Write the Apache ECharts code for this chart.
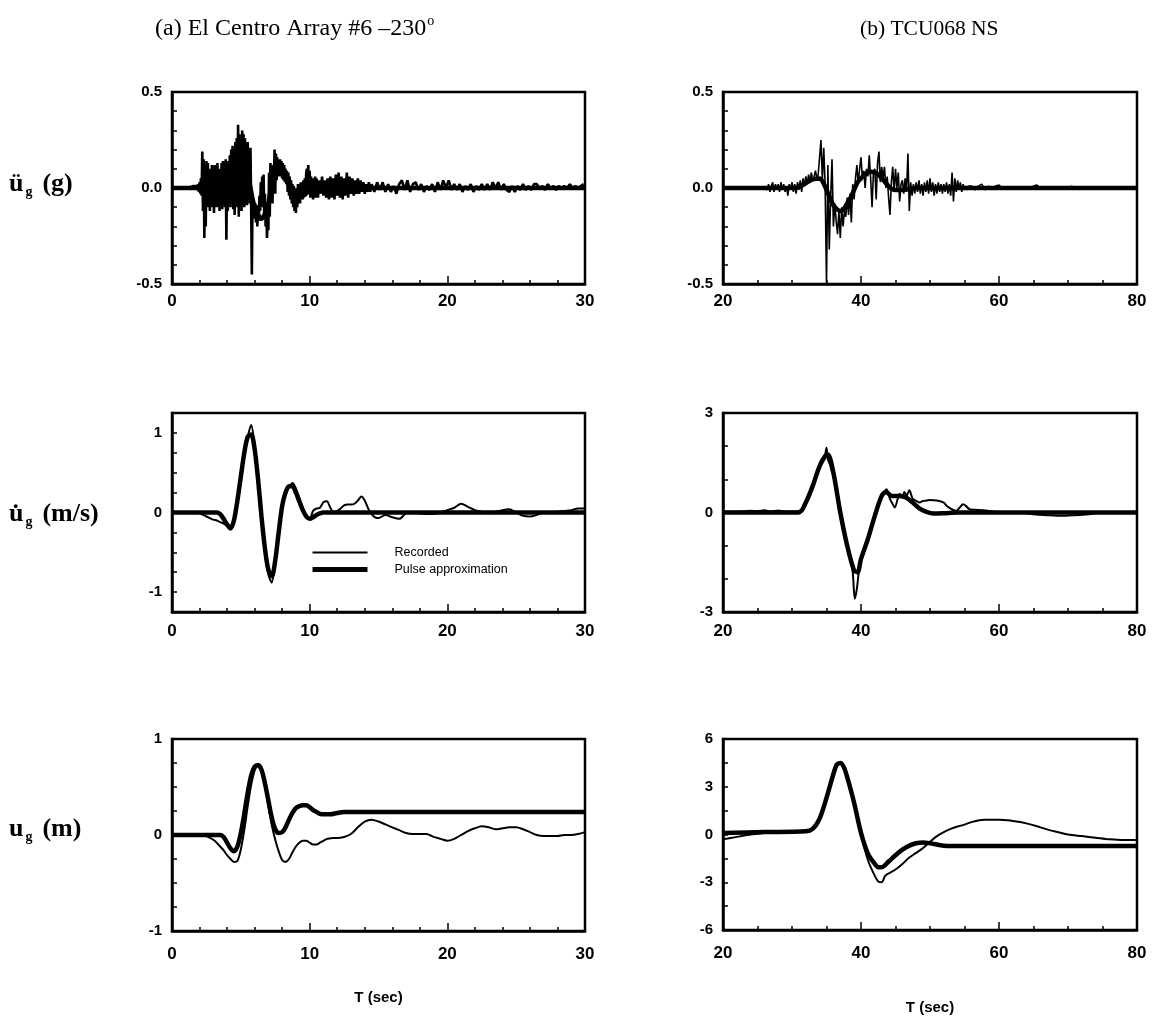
<!DOCTYPE html>
<html>
<head>
<meta charset="utf-8">
<script src="https://cdn.jsdelivr.net/npm/echarts@6/dist/echarts.min.js"></script>
<style>
  html, body { margin: 0; padding: 0; background: #fff; }
  #chart { width: 1155px; height: 1016px; }
</style>
</head>
<body>
<div id="chart"></div>
<script>
// ---------------- El Centro Array #6 (230) ----------------
// Recorded ground acceleration (g), stored as uniformly sampled pieces.
const elcAccPre = [0, 0, 0, 0, 0, 0.01];                 // t = 0 .. 1.5, dt 0.3
const elcAccStrong = [                                   // t = 1.8 .. 10.45, dt 0.05
  0.01, -0.01, 0.02, -0.02, 0.03, -0.03, 0.05, -0.04,
  0.19, -0.12, 0.15, -0.26, 0.12, -0.2, 0.14, -0.08, 0.13, -0.1, 0.08, -0.12,
  0.1, -0.05, 0.12, -0.1, 0.06, -0.13, 0.12, -0.08, 0.11, -0.1, 0.13, -0.06, 0.1, -0.12, 0.07, -0.09, 0.13, -0.11, 0.14, -0.08,
  0.12, -0.1, 0.15, -0.27, 0.09, -0.12, 0.14, -0.08, 0.17, -0.1, 0.2, -0.05, 0.22, -0.11, 0.18, -0.14, 0.24, -0.07, 0.26, -0.1,
  0.33, -0.15, 0.28, -0.08, 0.25, -0.12, 0.3, -0.05, 0.28, -0.1, 0.26, -0.06, 0.22, -0.09, 0.24, -0.04, 0.2, -0.08, 0.21, -0.1,
  -0.45, -0.06, -0.14, -0.07, -0.16, -0.08, -0.18, -0.09, -0.2, -0.1, -0.17, -0.04, -0.12, 0.03, -0.08, 0.06, -0.1, 0.07, -0.14, -0.03,
  -0.2, -0.08, -0.26, -0.12, -0.22, 0.08, -0.15, 0.13, -0.05, 0.11, -0.08, 0.12, 0.02, 0.2, -0.03, 0.18, 0.04, 0.16, 0.06, 0.13,
  0.07, 0.15, 0.06, 0.14, 0.05, 0.13, 0.04, 0.12, 0.03, 0.1, 0.02, 0.09, -0.02, 0.08, -0.04, 0.06, -0.06, 0.04, -0.08, 0.02,
  -0.1, 0.01, -0.12, -0.02, -0.13, 0.0, -0.1, 0.02, -0.07, 0.01, -0.08, 0.03, -0.05, 0.02, -0.06, 0.04, -0.03, 0.05, -0.04, 0.08,
  0.1, -0.02, 0.12, -0.03, 0.09, -0.05, 0.06, -0.04, 0.05, -0.06, 0.04, -0.03, 0.06, -0.05
];
const elcAccCoda1 = [                                    // t = 10.5 .. 14.4, dt 0.1
  0.05, -0.05, 0.04, -0.03, 0.06, -0.04, 0.04, -0.05, 0.05, -0.06,
  0.06, -0.05, 0.05, -0.06, 0.07, -0.04, 0.08, -0.05, 0.06, -0.06,
  0.05, -0.04, 0.08, -0.05, 0.06, -0.03, 0.05, -0.04, 0.04, -0.03,
  0.05, -0.03, 0.04, -0.02, 0.03, -0.03, 0.02, -0.02, 0.03, -0.02
];
const elcAccCoda2 = [                                    // t = 14.5 .. 29.9, dt 0.2
  0.02, -0.02, 0.03, -0.01, 0.03, -0.02, 0.02, -0.02, 0.01, -0.03,
  0.02, 0.04, -0.01, 0.04, -0.02, 0.02, 0.03, -0.01, 0.02, -0.02,
  0.01, -0.01, 0.02, -0.02, 0.03, -0.01, 0.04, 0.0, 0.04, -0.01,
  0.02, -0.01, 0.02, -0.02, 0.01, -0.01, 0.02, -0.02, 0.01, -0.01,
  0.02, -0.01, 0.02, -0.01, 0.03, 0.0, 0.03, -0.01, 0.02, -0.01,
  -0.02, 0.01, -0.02, 0.01, -0.01, 0.02, -0.01, 0.01, -0.01, 0.02,
  0.02, 0.0, 0.01, -0.01, 0.02, 0.0, 0.01, -0.01, 0.01, 0.0,
  0.01, 0.0, 0.02, 0.0, 0.01, 0.0, 0.01, 0.02
];
// Pulse approximation, acceleration (g): [t, value]
const elcAccPulse = [[0,0],[3,0],[3.5,-0.01],[4,-0.03],[4.5,0.05],[5,0.11],[5.5,0.06],[6,-0.1],[6.5,-0.16],
  [7,-0.08],[7.5,0.1],[8,0.1],[8.5,0.03],[9,-0.03],[9.5,-0.04],[10,-0.01],[10.5,0.01],[11,0],[30,0]];

// Recorded ground velocity (m/s)
const elcVelRec1 = [                                     // t = 0 .. 15, dt 0.25
  0, 0, 0, 0, 0, 0, 0, 0, -0.01, -0.03, -0.05, -0.07,
  -0.09, -0.1, -0.12, -0.14, -0.17, -0.2, -0.08, 0.15, 0.42, 0.72, 0.95, 1.1,
  0.85, 0.45, -0.05, -0.5, -0.78, -0.88, -0.55, -0.22, 0.12, 0.28, 0.33, 0.37,
  0.3, 0.18, 0.05, -0.05, -0.08, 0.02, 0.05, 0.06, 0.13, 0.14, 0.06, 0.0,
  0.02, 0.05, 0.09, 0.1, 0.1, 0.11, 0.15, 0.2, 0.15, 0.05, -0.02, -0.06,
  -0.07
];
const elcVelRec2 = [                                     // t = 15.5 .. 30, dt 0.5
  -0.03, -0.06, -0.08, -0.01, 0.0, -0.01, -0.02, -0.02, 0.0, 0.03,
  0.06, 0.11, 0.07, 0.03, 0.01, -0.01, 0.01, 0.03, 0.04, 0.0,
  -0.04, -0.05, -0.03, 0.0, 0.0, 0.01, 0.02, 0.03, 0.05, 0.05
];
const elcVelPulse = [[0,0],[3,0],[3.25,0],[3.5,-0.02],[3.75,-0.08],[4,-0.15],[4.25,-0.2],[4.5,-0.1],[4.75,0.15],
  [5,0.45],[5.25,0.75],[5.5,0.95],[5.75,0.98],[6,0.8],[6.25,0.42],[6.5,-0.05],[6.75,-0.45],[7,-0.72],[7.25,-0.8],
  [7.5,-0.6],[7.75,-0.25],[8,0.08],[8.25,0.25],[8.5,0.33],[8.75,0.33],[9,0.25],[9.25,0.14],[9.5,0.03],[9.75,-0.05],
  [10,-0.08],[10.25,-0.06],[10.5,-0.03],[10.75,-0.01],[11,0],[30,0]];

// Recorded ground displacement (m)
const elcDispRec1 = [                                    // t = 0 .. 12, dt 0.25
  0, 0, 0, 0, 0, 0, 0, 0, 0, 0, -0.01, -0.03,
  -0.05, -0.08, -0.12, -0.16, -0.21, -0.25, -0.28, -0.27, -0.15, 0.05, 0.3, 0.52,
  0.67, 0.72, 0.68, 0.52, 0.3, 0.1, -0.05, -0.17, -0.26, -0.28, -0.25, -0.18,
  -0.12, -0.08, -0.06, -0.06, -0.08, -0.1, -0.1, -0.08, -0.06, -0.04, -0.035, -0.03,
  -0.03
];
const elcDispRec2 = [                                    // t = 12.5 .. 30, dt 0.5
  -0.02, 0.01, 0.08, 0.14, 0.16, 0.14, 0.11, 0.08, 0.05, 0.02,
  0.01, 0.01, 0.01, -0.02, -0.04, -0.06, -0.04, 0.0, 0.04, 0.07,
  0.09, 0.08, 0.06, 0.07, 0.08, 0.08, 0.06, 0.03, 0.0, -0.01,
  -0.01, -0.01, 0.0, 0.0, 0.01, 0.03
];
const elcDispPulse = [[0,0],[3.5,0],[3.75,-0.02],[4,-0.08],[4.25,-0.14],[4.5,-0.17],[4.75,-0.12],[5,0.02],
  [5.25,0.22],[5.5,0.44],[5.75,0.62],[6,0.71],[6.25,0.73],[6.5,0.68],[6.75,0.54],[7,0.36],[7.25,0.18],[7.5,0.06],
  [7.75,0.02],[8,0.03],[8.25,0.08],[8.5,0.16],[8.75,0.23],[9,0.28],[9.25,0.3],[9.5,0.31],[9.75,0.31],[10,0.29],
  [10.25,0.26],[10.5,0.24],[10.75,0.22],[11,0.215],[11.5,0.215],[12,0.23],[12.5,0.24],[30,0.24]];

// ---------------- TCU068 NS ----------------
const tcuAccPre = [0, 0, 0, 0, 0, 0, 0, 0, 0, 0, 0, 0.005];   // t = 20 .. 25.5, dt 0.5
const tcuAccStrong = [                                   // t = 26 .. 55.8, dt 0.2
  0.0, 0.01, -0.01, 0.02, -0.02, 0.01, 0.03, -0.02, 0.02, -0.01,
  0.02, -0.02, 0.03, -0.01, 0.02, -0.02, 0.01, -0.04, 0.02, -0.01,
  0.03, -0.02, 0.02, -0.03, 0.03, -0.01, 0.04, -0.02, 0.05, 0.01,
  0.06, 0.02, 0.07, 0.03, 0.08, 0.04, 0.06, 0.09, 0.05, 0.07,
  0.06, 0.25, 0.04, 0.21, 0.02, -0.5, 0.12, -0.32, -0.05, 0.15,
  -0.2, -0.08, -0.17, -0.24, -0.12, -0.26, -0.1, -0.2, -0.12, -0.15,
  -0.05, -0.14, -0.03, -0.18, 0.02, -0.06, 0.05, 0.12, 0.02, 0.1,
  0.16, 0.05, 0.09, 0.0, 0.1, 0.06, 0.17, 0.05, -0.1, 0.08,
  0.1, -0.06, 0.13, 0.19, 0.03, 0.11, 0.05, 0.11, 0.0, 0.06,
  -0.05, -0.14, 0.03, 0.11, -0.02, 0.1, 0.0, 0.08, -0.07, 0.02,
  0.04, -0.03, 0.05, -0.02, 0.18, -0.12, 0.03, -0.04, 0.02, -0.03,
  0.03, -0.02, 0.04, -0.03, 0.02, -0.04, 0.03, -0.02, 0.04, -0.03,
  0.05, -0.02, 0.03, -0.04, 0.02, -0.03, 0.03, -0.02, 0.02, -0.03,
  0.02, -0.02, 0.03, -0.03, 0.02, -0.04, 0.08, -0.07, 0.05, -0.02,
  0.04, -0.01, 0.03, -0.02, 0.02, -0.01, 0.01, -0.01, 0.01, 0.0
];
const tcuAccPost = [                                     // t = 56 .. 80, dt 0.5
  0.01, -0.01, 0.01, 0.02, -0.01, 0.01, 0.0, 0.01, 0.015, 0.0,
  0.005, 0.0, 0.005, -0.005, 0.005, 0.0, 0.005, 0.0, 0.01, 0.015,
  0.0, 0.005, 0.0, 0.005, 0.0, 0.005, 0.0, 0.005, 0.0, 0.01,
  0.0, 0.005, 0.0, 0.005, 0.0, 0.005, 0.0, 0.005, 0.0, 0.005,
  0.0, 0.005, 0.0, 0.005, 0.0, 0.005, 0.0, 0.005, 0.0
];
const tcuAccPulse = [[20,0],[30,0],[31,0.005],[32,0.025],[33,0.045],[34,0.05],[34.5,0.03],[35,-0.01],[35.5,-0.05],
  [36,-0.09],[36.5,-0.11],[37,-0.12],[37.5,-0.11],[38,-0.08],[38.5,-0.05],[39,-0.01],[39.5,0.03],[40,0.05],
  [40.5,0.07],[41,0.08],[41.5,0.085],[42,0.08],[42.5,0.07],[43,0.05],[43.5,0.03],[44,0.01],[44.5,-0.005],
  [45,-0.01],[46,-0.01],[47,-0.005],[48,0],[80,0]];

const tcuVelRec = [[20,0.03],[22,0.02],[24,0.05],[25,0.04],[26,0.07],[27,0.03],[28,0.06],[29,0.03],[30,0.03],
  [31,0.05],[31.5,0.12],[32,0.25],[32.5,0.55],[33,0.87],[33.5,1.15],[34,1.38],[34.5,1.6],[34.8,1.75],[35,1.95],
  [35.2,1.6],[35.5,1.45],[35.7,1.28],[36,1.15],[36.2,1.08],[36.4,0.77],[36.9,0.0],[37.4,-0.45],[37.9,-0.87],
  [38.4,-1.35],[38.8,-1.8],[39.1,-2.6],[39.4,-2.3],[39.8,-1.6],[40.3,-1.2],[40.8,-0.97],[41.2,-0.6],[41.7,-0.25],
  [42.2,0.05],[42.7,0.36],[43.2,0.55],[43.7,0.7],[44.2,0.41],[44.6,0.25],[44.9,0.15],[45.3,0.4],[45.6,0.56],
  [46,0.5],[46.3,0.62],[46.6,0.5],[47,0.67],[47.5,0.41],[48,0.35],[48.5,0.3],[49,0.35],[49.5,0.36],[50,0.38],
  [51,0.36],[52,0.3],[52.4,0.2],[53,0.12],[53.8,0.05],[54.3,0.15],[54.8,0.25],[55.2,0.2],[55.7,0.1],[56.5,0.08],
  [57.7,0.07],[59,0.03],[61,0.0],[63,0.0],[65,-0.05],[67,-0.08],[69,-0.1],[71,-0.08],[73,-0.05],[75,0.0],
  [77,0.0],[80,0.02]];
const tcuVelPulse = [[20,0],[31,0],[32,0.3],[33,0.8],[34,1.4],[34.8,1.7],[35.2,1.75],[36,1.2],[37,0.0],[38,-1.0],
  [39,-1.75],[39.5,-1.8],[40,-1.4],[41,-0.8],[42,-0.1],[43,0.5],[43.6,0.62],[44.5,0.5],[45.5,0.5],[46.5,0.45],
  [47.5,0.3],[48.5,0.12],[49.5,0.02],[50.5,-0.03],[52,-0.02],[54,0],[80,0]];

const tcuDispRec = [[20,-0.3],[22,-0.15],[24,0.0],[26,0.1],[28,0.15],[30,0.18],[32,0.2],[33,0.4],[34,1.0],
  [35,2.2],[36,3.7],[36.5,4.3],[37,4.45],[37.5,4.2],[38,3.6],[39,2.0],[40,0.0],[41,-1.6],[42,-2.6],[42.5,-2.95],
  [43,-3.0],[43.5,-2.6],[44,-2.45],[45,-2.2],[46,-1.85],[47,-1.45],[48,-1.15],[49,-0.85],[50,-0.45],[51,-0.1],
  [52,0.15],[53,0.35],[54,0.5],[55,0.62],[56,0.78],[57,0.88],[58,0.92],[59,0.93],[60,0.92],[62,0.85],[64,0.7],
  [66,0.45],[68,0.2],[70,0.0],[72,-0.1],[74,-0.2],[76,-0.3],[78,-0.35],[80,-0.35]];
const tcuDispPulse = [[20,0.1],[26,0.15],[32,0.2],[33,0.35],[34,1.0],[35,2.3],[36,3.8],[36.5,4.4],[37,4.5],
  [37.5,4.25],[38,3.6],[39,2.0],[40,0.1],[41,-1.2],[42,-1.85],[42.5,-2.05],[43,-2.05],[44,-1.7],[45,-1.3],
  [46,-0.95],[47,-0.7],[48,-0.55],[49,-0.5],[50,-0.55],[52,-0.7],[55,-0.73],[80,-0.73]];

// Axis ranges and tick settings per row / column
const xRanges = [{ min: 0, max: 30, interval: 10, minor: 5 }, { min: 20, max: 80, interval: 20, minor: 4 }];
const yRanges = [
  [{ min: -0.5, max: 0.5, interval: 0.5, minor: 5, fmt: 'dec' }, { min: -0.5, max: 0.5, interval: 0.5, minor: 5, fmt: 'dec' }],
  [{ min: -1.25, max: 1.25, interval: 0.25, minor: 0, fmt: 'int' }, { min: -3, max: 3, interval: 3, minor: 3, fmt: 'int' }],
  [{ min: -1, max: 1, interval: 1, minor: 4, fmt: 'int' }, { min: -6, max: 6, interval: 3, minor: 2, fmt: 'int' }]
];

// Build [t, value] pairs from a uniformly sampled piece
function sampled(t0, dt, vals) {
  return vals.map((v, i) => [Math.round((t0 + i * dt) * 1000) / 1000, v]);
}

const elcAccRec = [].concat(sampled(0, 0.3, elcAccPre), sampled(1.8, 0.05, elcAccStrong),
  sampled(10.5, 0.1, elcAccCoda1), sampled(14.5, 0.2, elcAccCoda2));
const elcVelRec = [].concat(sampled(0, 0.25, elcVelRec1), sampled(15.5, 0.5, elcVelRec2));
const elcDispRec = [].concat(sampled(0, 0.25, elcDispRec1), sampled(12.5, 0.5, elcDispRec2));
const tcuAccRec = [].concat(sampled(20, 0.5, tcuAccPre), sampled(26, 0.2, tcuAccStrong), sampled(56, 0.5, tcuAccPost));

const panels = [
  [[elcAccRec, elcAccPulse], [tcuAccRec, tcuAccPulse]],
  [[elcVelRec, elcVelPulse], [tcuVelRec, tcuVelPulse]],
  [[elcDispRec, elcDispPulse], [tcuDispRec, tcuDispPulse]]
];

// Layout
const colLeft = [172, 723], colWidth = [413, 414];
const rowTop = [92, 413, 739], rowHeight = [192, 199, 192];
const labelMargin = [9, 11, 15];
const recWidth = [[2.6, 1.6], [2, 2], [2, 2]];

const grids = [], xAxes = [], yAxes = [], series = [];
const tickFont = { fontFamily: 'Liberation Sans, Arial, sans-serif', fontWeight: 'bold', color: '#000' };

for (let r = 0; r < 3; r++) {
  for (let c = 0; c < 2; c++) {
    const idx = grids.length;
    grids.push({
      left: colLeft[c], top: rowTop[r], width: colWidth[c], height: rowHeight[r],
      show: true, borderColor: '#000', borderWidth: 2.5, backgroundColor: 'transparent'
    });
    const xr = xRanges[c];
    xAxes.push({
      type: 'value', gridIndex: idx, min: xr.min, max: xr.max, interval: xr.interval,
      axisLine: { show: true, onZero: false, lineStyle: { color: '#000', width: 2.5 } },
      axisTick: { show: true, inside: true, length: 8, lineStyle: { color: '#000', width: 1.5 } },
      minorTick: { show: true, splitNumber: xr.minor, length: 4, lineStyle: { color: '#000', width: 1.5 } },
      splitLine: { show: false }, minorSplitLine: { show: false },
      axisLabel: Object.assign({ fontSize: 17, margin: labelMargin[r], showMinLabel: true, showMaxLabel: true }, tickFont),
      name: r === 2 ? 'T (sec)' : '',
      nameLocation: 'middle', nameGap: c === 0 ? 59 : 70,
      nameTextStyle: { fontFamily: 'Liberation Sans, Arial, sans-serif', fontWeight: 'bold', fontSize: 15, color: '#000' }
    });
    const yr = yRanges[r][c];
    yAxes.push({
      type: 'value', gridIndex: idx, min: yr.min, max: yr.max, interval: yr.interval,
      axisLine: { show: true, onZero: false, lineStyle: { color: '#000', width: 2.5 } },
      axisTick: { show: true, inside: true, length: 5, lineStyle: { color: '#000', width: 1.5 } },
      minorTick: { show: yr.minor > 0, splitNumber: yr.minor || 5, length: 5, lineStyle: { color: '#000', width: 1.5 } },
      splitLine: { show: false }, minorSplitLine: { show: false },
      axisLabel: Object.assign({
        fontSize: 15, margin: 10, showMinLabel: true, showMaxLabel: true,
        formatter: yr.fmt === 'dec'
          ? (v) => v.toFixed(1)
          : (v) => (Math.abs(v - Math.round(v)) < 1e-6 ? String(Math.round(v) + 0) : '')
      }, tickFont)
    });
    const [rec, pulse] = panels[r][c];
    series.push({
      name: 'Recorded', type: 'line', xAxisIndex: idx, yAxisIndex: idx, data: rec,
      showSymbol: false, symbol: 'none', smooth: r === 0 ? false : 0.3, clip: true,
      itemStyle: { color: '#000' },
      lineStyle: { color: '#000', width: recWidth[r][c] }, z: 3
    });
    series.push({
      name: 'Pulse approximation', type: 'line', xAxisIndex: idx, yAxisIndex: idx, data: pulse,
      showSymbol: false, symbol: 'none', smooth: 0.3, clip: true,
      itemStyle: { color: '#000' },
      lineStyle: { color: '#000', width: 4.5 }, z: 2
    });
  }
}

const serif = 'Liberation Serif, "Times New Roman", serif';
const rowLabelStyle = {
  fontFamily: serif, fontSize: 26, fontWeight: 'bold', color: '#000',
  rich: { sub: { fontFamily: serif, fontSize: 14, fontWeight: 'bold', lineHeight: 14, padding: [17, 10, 0, 2] } }
};

const option = {
  animation: false,
  backgroundColor: '#fff',
  title: [
    { text: '(a) El Centro Array #6 \u2013230{sup|o}', left: 150, top: 12,
      textStyle: { fontFamily: serif, fontSize: 24, fontWeight: 'normal', color: '#000',
        rich: { sup: { fontFamily: serif, fontSize: 14, lineHeight: 14, padding: [0, 0, 15, 1] } } } },
    { text: '(b) TCU068 NS', left: 855, top: 13,
      textStyle: { fontFamily: serif, fontSize: 21.5, fontWeight: 'normal', color: '#000' } },
    { text: '\u00fc{sub|g}(g)', left: 4, top: 166, textStyle: rowLabelStyle },
    { text: 'u\u0307{sub|g}(m/s)', left: 4, top: 496, textStyle: rowLabelStyle },
    { text: 'u{sub|g}(m)', left: 4, top: 811, textStyle: rowLabelStyle }
  ],
  legend: {
    left: 305, top: 541, orient: 'vertical', itemWidth: 55, itemHeight: 14, itemGap: 4,
    selectedMode: false,
    itemStyle: { color: 'transparent', borderWidth: 0, opacity: 0 },
    data: [
      { name: 'Recorded', lineStyle: { width: 2, color: '#000' } },
      { name: 'Pulse approximation', lineStyle: { width: 5, color: '#000' } }
    ],
    formatter: (name) => '{g|}' + name,
    textStyle: { fontFamily: 'Liberation Sans, Arial, sans-serif', fontSize: 12.5, color: '#000',
      rich: { g: { width: 22 } } }
  },
  grid: grids,
  xAxis: xAxes,
  yAxis: yAxes,
  series: series
};

const chart = echarts.init(document.getElementById('chart'), null, { renderer: 'canvas' });
chart.setOption(option);
</script>
</body>
</html>
